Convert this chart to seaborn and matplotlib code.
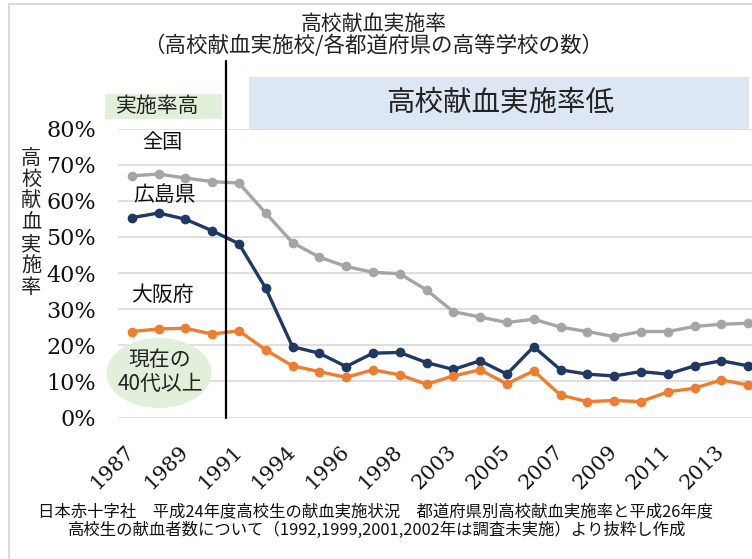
import matplotlib
matplotlib.use("Agg")
import matplotlib.pyplot as plt
import matplotlib.patches as mpatches
import matplotlib.ticker as mticker
import seaborn as sns
import pandas as pd

# ---------------- data ----------------
years = ["1987", "1988", "1989", "1990", "1991", "1993", "1994", "1995", "1996",
         "1997", "1998", "2000", "2003", "2004", "2005", "2006", "2007", "2008",
         "2009", "2010", "2011", "2012", "2013", "2014"]
zenkoku = [66.9, 67.4, 66.3, 65.3, 64.9, 56.6, 48.4, 44.4, 41.8, 40.2, 39.8, 35.3,
           29.3, 27.8, 26.3, 27.2, 25.0, 23.8, 22.4, 23.8, 23.8, 25.2, 25.8, 26.1]
hiroshima = [55.3, 56.6, 54.9, 51.7, 48.1, 35.8, 19.6, 17.8, 14.1, 17.8, 18.0, 15.2,
             13.3, 15.7, 12.0, 19.6, 13.2, 12.0, 11.5, 12.7, 12.0, 14.3, 15.7, 14.3]
osaka = [23.8, 24.5, 24.7, 23.1, 24.0, 18.7, 14.3, 12.7, 11.1, 13.2, 11.8, 9.2,
         11.5, 13.2, 9.3, 12.9, 6.2, 4.4, 4.7, 4.4, 7.1, 8.1, 10.4, 9.0]
series_names = ["全国", "広島県", "大阪府"]
series_colors = ["#A5A5A5", "#1F3864", "#ED7D31"]
y_ticks = [0, 10, 20, 30, 40, 50, 60, 70, 80]

title = "高校献血実施率"
subtitle = "（高校献血実施校/各都道府県の高等学校の数）"
ylabel = "高校献血実施率"
box_high = "実施率高"
box_low = "高校献血実施率低"
ellipse_text = "現在の\n40代以上"
source1 = "日本赤十字社　平成24年度高校生の献血実施状況　都道府県別高校献血実施率と平成26年度"
source2 = "高校生の献血者数について（1992,1999,2001,2002年は調査未実施）より抜粋し作成"

rows = []
for name, vals in zip(series_names, [zenkoku, hiroshima, osaka]):
    for i, (yr, v) in enumerate(zip(years, vals)):
        rows.append({"idx": i, "year": yr, "series": name, "value": v})
df = pd.DataFrame(rows)

# ---------------- style ----------------
sns.set_theme(style="white")
plt.rcParams["font.family"] = ["Noto Sans CJK JP", "DejaVu Sans"]

W, H = 752, 559
fig = plt.figure(figsize=(W / 100, H / 100), dpi=100)

def fx(px):
    return px / W

def fy(py):
    return 1 - py / H

left_px, right_px = 118.3, 761.5
top_px, bot_px = 128.5, 417.5
ax = fig.add_axes([fx(left_px), fy(bot_px), (right_px - left_px) / W, (bot_px - top_px) / H])

# figure border (light grey, only top/left visible)
fig.add_artist(mpatches.Rectangle((fx(9), -0.05), 1.2, fy(4) + 0.05, transform=fig.transFigure,
                                  fill=False, edgecolor="#D9D9D9", linewidth=1.5, zorder=0))

# background boxes
fig.add_artist(mpatches.Rectangle((fx(249), fy(129)), fx(749) - fx(249), fy(77) - fy(129),
                                  transform=fig.transFigure, facecolor="#DDE7F4",
                                  edgecolor="none", zorder=0.5))
fig.add_artist(mpatches.Rectangle((fx(105), fy(119)), fx(222) - fx(105), fy(94) - fy(119),
                                  transform=fig.transFigure, facecolor="#E2EFDA",
                                  edgecolor="none", zorder=0.5))
fig.add_artist(mpatches.Ellipse((fx(159), fy(373)), fx(105), 70 / H,
                                transform=fig.transFigure, facecolor="#E2EFDA",
                                edgecolor="none", zorder=0.5))

ax.set_facecolor("none")
for s in ax.spines.values():
    s.set_visible(False)

sns.lineplot(data=df, x="idx", y="value", hue="series", hue_order=series_names,
             palette=dict(zip(series_names, series_colors)), marker="o",
             markersize=7, markeredgewidth=0, linewidth=2.4, legend=False, ax=ax,
             zorder=3)

ax.set_xlim(-0.5, len(years) - 0.5)
ax.set_ylim(0, 80)
ax.set_yticks(y_ticks)
ax.yaxis.set_major_formatter(mticker.FuncFormatter(lambda v, p: f"{int(v)}%"))
ax.grid(axis="y", color="#D9D9D9", linewidth=1.2)
ax.grid(axis="x", visible=False)
ax.set_axisbelow(True)
ax.tick_params(axis="both", length=0)
ax.tick_params(axis="y", pad=16)
for lab in ax.get_yticklabels():
    lab.set_fontfamily("DejaVu Serif")
    lab.set_fontsize(16)
    lab.set_color("#111111")

tick_idx = list(range(0, len(years), 2))
ax.set_xticks(tick_idx)
ax.set_xticklabels([years[i] for i in tick_idx], rotation=45, ha="right",
                   va="center", rotation_mode="anchor", fontfamily="DejaVu Serif",
                   fontsize=15, color="#111111")
ax.tick_params(axis="x", pad=22)
ax.set_xlabel("")
ax.set_ylabel("")

# vertical separator between 1990 and 1991
ax.plot([3.5, 3.5], [0, 80 * (417.5 - 61) / 289], color="black", linewidth=1.6,
        clip_on=False, zorder=4)

# titles
fig.text(fx(374), fy(24), title, ha="center", va="center", fontsize=15, color="#222222")
fig.text(fx(373), fy(46), subtitle, ha="center", va="center", fontsize=15.5, color="#222222")

# box texts
fig.text(fx(158), fy(106), box_high, ha="center", va="center", fontsize=15, color="#222222")
fig.text(fx(500), fy(103), box_low, ha="center", va="center", fontsize=20.5, color="#222222")

# series labels
fig.text(fx(162), fy(143), series_names[0], ha="center", va="center", fontsize=14.5, color="#111111")
fig.text(fx(165), fy(195), series_names[1], ha="center", va="center", fontsize=15, color="#111111")
fig.text(fx(162), fy(295), series_names[2], ha="center", va="center", fontsize=15, color="#111111")

# ellipse text
fig.text(fx(160), fy(372), ellipse_text, ha="center", va="center", fontsize=15,
         color="#222222", linespacing=1.1)

# stacked y label
for k, ch in enumerate(ylabel):
    fig.text(fx(31), fy(158 + k * 21.6), ch, ha="center", va="center", fontsize=14.5,
             color="#222222")

# source
fig.text(fx(376), fy(512), source1, ha="center", va="center", fontsize=11.8, color="#111111")
fig.text(fx(377), fy(530), source2, ha="center", va="center", fontsize=11.8, color="#111111")

fig.savefig("out.png", dpi=100)
